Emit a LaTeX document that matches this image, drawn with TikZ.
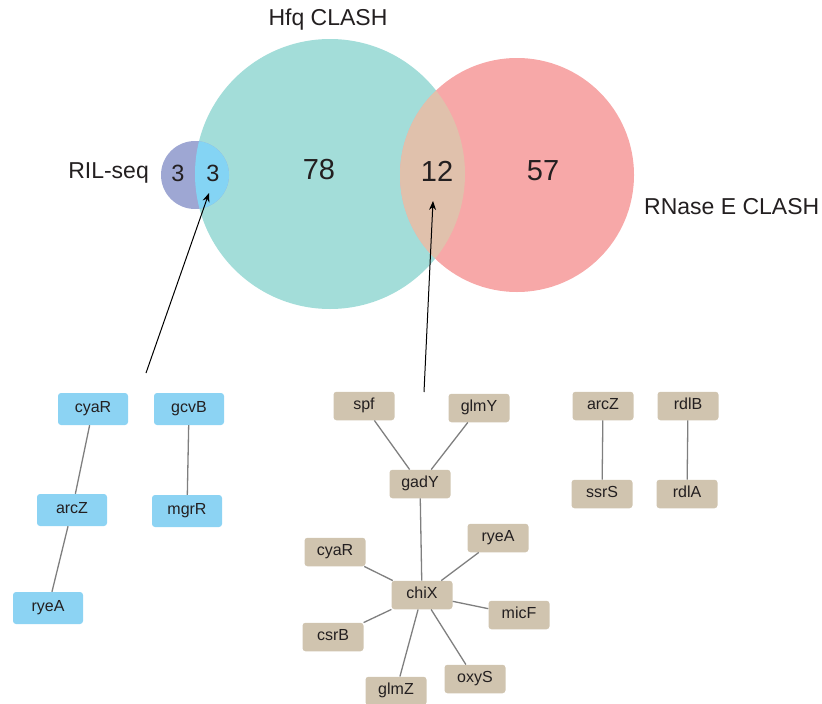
\documentclass[tikz,border=0pt]{standalone}
\usepackage{fontspec}
\setmainfont{Liberation Sans}
\usetikzlibrary{arrows.meta}
\definecolor{rilc}{HTML}{9EA7D3}
\definecolor{rilhfq}{HTML}{84D4F4}
\definecolor{hfqc}{HTML}{A3DDD9}
\definecolor{rnec}{HTML}{F7A8A8}
\definecolor{lensc}{HTML}{E0C1AC}
\definecolor{bluenode}{HTML}{8CD3F3}
\definecolor{tannode}{HTML}{D0C4AF}
\definecolor{txt}{HTML}{231F20}
\definecolor{edgec}{HTML}{7F7F7F}
\tikzset{
  lbl/.style={text=txt, inner sep=0pt, font=\fontsize{23}{27}\selectfont},
  num/.style={text=txt, inner sep=0pt, font=\fontsize{29}{33}\selectfont},
  smallnum/.style={text=txt, inner sep=0pt, font=\fontsize{23.5}{27}\selectfont},
  gbox/.style={rectangle, rounded corners=3pt, inner sep=0pt, text=txt,
    font=\fontsize{16}{19}\selectfont, text height=0.72em, text depth=0pt},
  bluebox/.style={gbox, fill=bluenode, minimum width=70pt, minimum height=32pt},
  tanbox/.style={gbox, fill=tannode, minimum width=61pt, minimum height=28.5pt},
  link/.style={draw=edgec, line width=1.3pt},
  pointer/.style={draw=black, line width=1pt, -{Stealth[length=9pt,width=7pt]}}
}
\begin{document}
\begin{tikzpicture}[x=1pt,y=-1pt]
\useasboundingbox (0,0) rectangle (822,704);
% Venn
\fill[hfqc] (330,174) circle[radius=135pt];
\fill[rnec] (517,175) circle[radius=117pt];
\begin{scope}
  \clip (330,174) circle[radius=135pt];
  \fill[lensc] (517,175) circle[radius=117pt];
\end{scope}
\fill[rilc] (195,175) circle[radius=34pt];
\begin{scope}
  \clip (330,174) circle[radius=135pt];
  \fill[rilhfq] (195,175) circle[radius=34pt];
\end{scope}
% labels
\node[lbl] (thfq) at (328,20) {Hfq CLASH};
\node[lbl, anchor=east] (tril) at (149,173) {RIL-seq};
\node[lbl, anchor=west] (trne) at (644,207) {RNase E CLASH};
\node[smallnum] (n3a) at (178,173) {3};
\node[smallnum] (n3b) at (213,173) {3};
\node[num] (n78) at (319,170) {78};
\node[num] (n12) at (437,171) {12};
\node[num] (n57) at (543,171) {57};
% arrows
\coordinate (a1s) at (146,373);
\coordinate (a1t) at (209,193);
\coordinate (a2s) at (424,392);
\coordinate (a2t) at (433,201);
\draw[pointer] (a1s) -- (a1t);
\draw[pointer] (a2s) -- (a2t);
% left group
\node[bluebox] (bcyaR) at (93,409) {cyaR};
\node[bluebox] (bgcvB) at (189,409) {gcvB};
\node[bluebox] (barcZ) at (72,510) {arcZ};
\node[bluebox] (bmgrR) at (187,511) {mgrR};
\node[bluebox] (bryeA) at (48,608) {ryeA};
\draw[link] (bcyaR) -- (barcZ);
\draw[link] (barcZ) -- (bryeA);
\draw[link] (bgcvB) -- (bmgrR);
% middle group
\node[tanbox] (spf) at (364,406) {spf};
\node[tanbox] (glmY) at (479,408) {glmY};
\node[tanbox] (gadY) at (420,484) {gadY};
\node[tanbox] (ryeA) at (498,538) {ryeA};
\node[tanbox] (cyaR) at (335,552) {cyaR};
\node[tanbox] (chiX) at (422,595) {chiX};
\node[tanbox] (micF) at (519,615) {micF};
\node[tanbox] (csrB) at (333,637) {csrB};
\node[tanbox] (oxyS) at (475,679) {oxyS};
\node[tanbox] (glmZ) at (396,691) {glmZ};
\draw[link] (spf) -- (gadY);
\draw[link] (glmY) -- (gadY);
\draw[link] (gadY) -- (chiX);
\foreach \t in {ryeA,cyaR,micF,csrB,oxyS,glmZ} \draw[link] (chiX) -- (\t);
% right group
\node[tanbox] (rarcZ) at (603,406) {arcZ};
\node[tanbox] (rdlB) at (688,406) {rdlB};
\node[tanbox] (ssrS) at (602,494) {ssrS};
\node[tanbox] (rdlA) at (687,494) {rdlA};
\draw[link] (rarcZ) -- (ssrS);
\draw[link] (rdlB) -- (rdlA);
\end{tikzpicture}
\end{document}
